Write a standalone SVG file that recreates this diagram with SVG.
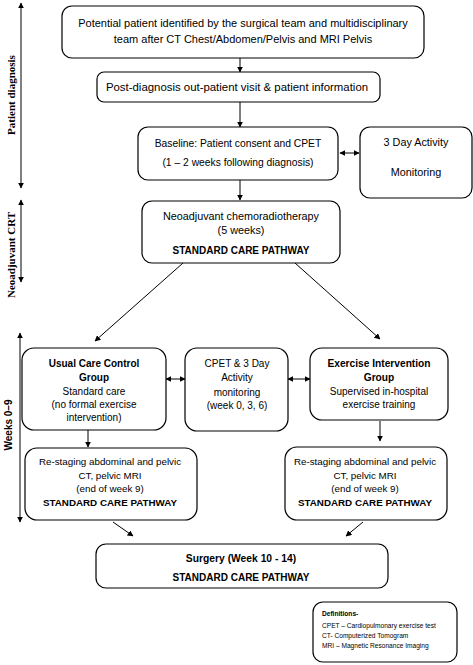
<svg xmlns="http://www.w3.org/2000/svg" width="473" height="665" viewBox="0 0 473 665">
<defs>
<marker id="ah" viewBox="0 0 10 10" refX="9" refY="5" markerWidth="6" markerHeight="6" orient="auto-start-reverse" markerUnits="userSpaceOnUse">
<path d="M0,0 L10,5 L0,10 z" fill="#000"/>
</marker>
<style>
.box{fill:#fff;stroke:#000;stroke-width:1.2}
.t{font-family:"Liberation Sans",Arial,sans-serif;font-size:10px;fill:#000;text-anchor:middle}
.b{font-weight:bold}
.ax{font-family:"Liberation Serif","Times New Roman",serif;font-size:11px;font-weight:bold;fill:#000;text-anchor:middle}
.ln{stroke:#000;stroke-width:1;fill:none}
.d{font-family:"Liberation Sans",Arial,sans-serif;font-size:6.6px;fill:#000}
</style>
</defs>
<rect width="473" height="665" fill="#fff"/>
<g id="axes">
<line class="ln" x1="21" y1="3" x2="21" y2="188" marker-start="url(#ah)" marker-end="url(#ah)"/>
<text class="ax" transform="translate(15,95) rotate(-90)">Patient diagnosis</text>
<line class="ln" x1="21" y1="200" x2="21" y2="282" marker-start="url(#ah)" marker-end="url(#ah)"/>
<text class="ax" transform="translate(15,255) rotate(-90)">Neoadjuvant CRT</text>
<line class="ln" x1="20" y1="333" x2="20" y2="522" marker-start="url(#ah)" marker-end="url(#ah)"/>
<text class="ax" style="font-family:'Liberation Sans',Arial,sans-serif;font-size:10px" transform="translate(12,425) rotate(-90)">Weeks 0–9</text>
</g>
<g id="connectors">
<line class="ln" x1="240" y1="58" x2="240" y2="72" marker-end="url(#ah)"/>
<line class="ln" x1="240" y1="102" x2="240" y2="127" marker-end="url(#ah)"/>
<line class="ln" x1="240" y1="180" x2="240" y2="200" marker-end="url(#ah)"/>
<line class="ln" x1="340" y1="153" x2="359" y2="153" marker-start="url(#ah)" marker-end="url(#ah)"/>
<line class="ln" x1="183" y1="263" x2="95" y2="341" marker-end="url(#ah)"/>
<line class="ln" x1="295" y1="263" x2="380" y2="339" marker-end="url(#ah)"/>
<line class="ln" x1="166" y1="379" x2="185" y2="379" marker-start="url(#ah)" marker-end="url(#ah)"/>
<line class="ln" x1="288" y1="379" x2="310" y2="379" marker-start="url(#ah)" marker-end="url(#ah)"/>
<line class="ln" x1="88" y1="430" x2="88" y2="447" marker-end="url(#ah)"/>
<line class="ln" x1="380" y1="421" x2="380" y2="441" marker-end="url(#ah)"/>
<line class="ln" x1="113" y1="522" x2="133" y2="536" marker-end="url(#ah)"/>
<line class="ln" x1="363" y1="522" x2="346" y2="536" marker-end="url(#ah)"/>
</g>
<g id="n1">
<rect class="box" x="62" y="6" width="362" height="52" rx="10"/>
<text class="t" x="243" y="27" style="font-size:11px">Potential patient identified by the surgical team and multidisciplinary</text>
<text class="t" x="243" y="43" style="font-size:11px">team after CT Chest/Abdomen/Pelvis and MRI Pelvis</text>
</g>
<g id="n2">
<rect class="box" x="97" y="72" width="283" height="30" rx="7"/>
<text class="t" x="237" y="91" style="font-size:11.4px">Post-diagnosis out-patient visit &amp; patient information</text>
</g>
<g id="n3">
<rect class="box" x="138" y="127" width="200" height="53" rx="10"/>
<text class="t" x="238" y="147" style="font-size:10.3px">Baseline: Patient consent and CPET</text>
<text class="t" x="238" y="166" style="font-size:10.3px">(1 – 2 weeks following diagnosis)</text>
</g>
<g id="n4">
<rect class="box" x="360" y="127" width="112" height="71" rx="10"/>
<text class="t" x="416" y="146" style="font-size:10.8px">3 Day Activity</text>
<text class="t" x="416" y="176" style="font-size:10.8px">Monitoring</text>
</g>
<g id="n5">
<rect class="box" x="142" y="201" width="198" height="62" rx="10"/>
<text class="t" x="241" y="220" style="font-size:10.8px">Neoadjuvant chemoradiotherapy</text>
<text class="t" x="241" y="234" style="font-size:10.8px">(5 weeks)</text>
<text class="t b" x="241" y="254" style="font-size:10px">STANDARD CARE PATHWAY</text>
</g>
<g id="n6">
<rect class="box" x="22" y="348" width="144" height="82" rx="12"/>
<text class="t b" x="94" y="367">Usual Care Control</text>
<text class="t b" x="94" y="381">Group</text>
<text class="t" x="94" y="395">Standard care</text>
<text class="t" x="94" y="408">(no formal exercise</text>
<text class="t" x="94" y="421">intervention)</text>
</g>
<g id="n7">
<rect class="box" x="185" y="348" width="103" height="83" rx="12"/>
<text class="t" x="237" y="367">CPET &amp; 3 Day</text>
<text class="t" x="237" y="381">Activity</text>
<text class="t" x="237" y="396">monitoring</text>
<text class="t" x="237" y="409">(week 0, 3, 6)</text>
</g>
<g id="n8">
<rect class="box" x="310" y="348" width="138" height="72" rx="12"/>
<text class="t b" x="379" y="367" style="font-size:10.2px">Exercise Intervention</text>
<text class="t b" x="379" y="381" style="font-size:10.2px">Group</text>
<text class="t" x="379" y="395">Supervised in-hospital</text>
<text class="t" x="379" y="408">exercise training</text>
</g>
<g id="n9">
<rect class="box" x="25" y="448" width="172" height="72" rx="12"/>
<text class="t" x="110" y="465" style="font-size:9.8px">Re-staging abdominal and pelvic</text>
<text class="t" x="110" y="479" style="font-size:9.8px">CT, pelvic MRI</text>
<text class="t" x="110" y="492" style="font-size:9.8px">(end of week 9)</text>
<text class="t b" x="110" y="506" style="font-size:9.8px">STANDARD CARE PATHWAY</text>
</g>
<g id="n10">
<rect class="box" x="285" y="447" width="162" height="73" rx="12"/>
<text class="t" x="365" y="465" style="font-size:9.8px">Re-staging abdominal and pelvic</text>
<text class="t" x="365" y="479" style="font-size:9.8px">CT, pelvic MRI</text>
<text class="t" x="365" y="492" style="font-size:9.8px">(end of week 9)</text>
<text class="t b" x="365" y="506" style="font-size:9.8px">STANDARD CARE PATHWAY</text>
</g>
<g id="n11">
<rect class="box" x="96" y="544" width="292" height="44" rx="10"/>
<text class="t b" x="241" y="562" style="font-size:10.3px">Surgery (Week 10 - 14)</text>
<text class="t b" x="241" y="581" style="font-size:10px">STANDARD CARE PATHWAY</text>
</g>
<g id="n12">
<rect class="box" x="313" y="602" width="144" height="60" rx="10"/>
<text class="d" x="322" y="616" font-weight="bold">Definitions-</text>
<text class="d" x="322" y="628">CPET – Cardiopulmonary exercise test</text>
<text class="d" x="322" y="638">CT- Computerized Tomogram</text>
<text class="d" x="322" y="648">MRI – Magnetic Resonance Imaging</text>
</g>
</svg>
